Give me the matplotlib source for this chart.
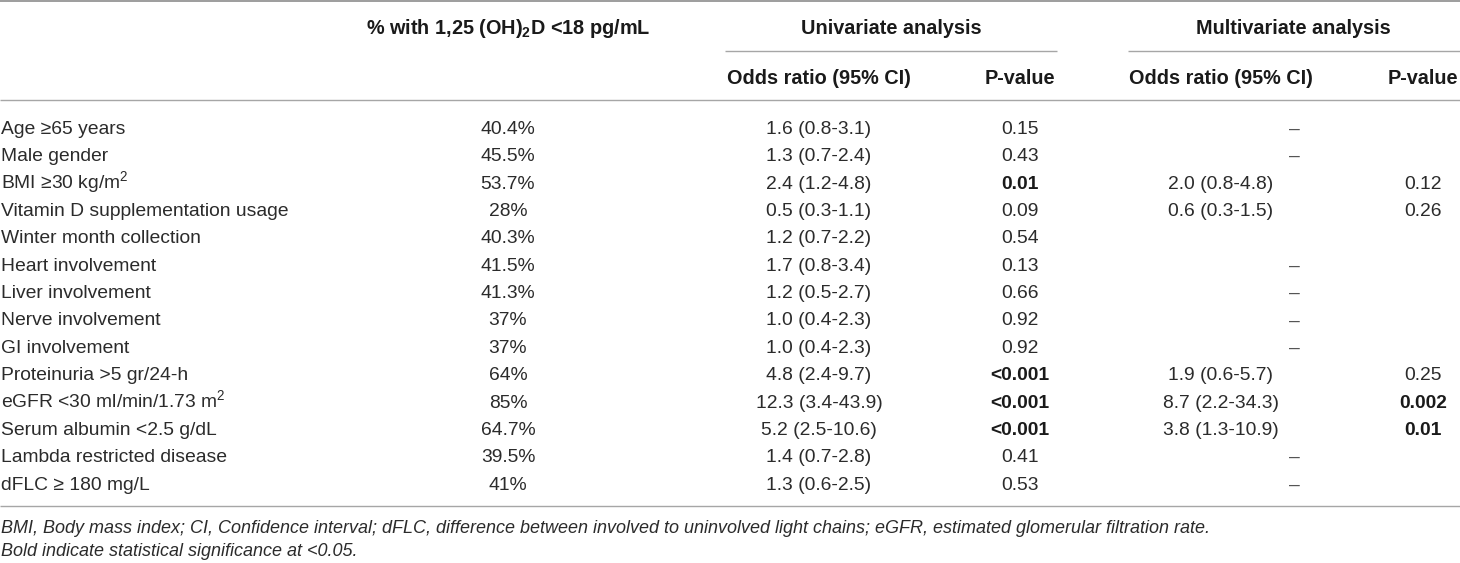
import matplotlib
matplotlib.use("Agg")
import matplotlib.pyplot as plt

plt.rcParams['font.family'] = ['Liberation Sans', 'DejaVu Sans']
plt.rcParams['mathtext.fontset'] = 'custom'
plt.rcParams['mathtext.rm'] = 'Liberation Sans'
plt.rcParams['mathtext.it'] = 'Liberation Sans:italic'
plt.rcParams['mathtext.bf'] = 'Liberation Sans:bold'
plt.rcParams['mathtext.default'] = 'regular'

# ---- data ----
variables = ["Age \u226565 years", "Male gender", "BMI \u226530 kg/m$^{2}$",
             "Vitamin D supplementation usage", "Winter month collection",
             "Heart involvement", "Liver involvement", "Nerve involvement",
             "GI involvement", "Proteinuria >5 gr/24-h",
             "eGFR <30 ml/min/1.73 m$^{2}$", "Serum albumin <2.5 g/dL",
             "Lambda restricted disease", "dFLC \u2265 180 mg/L"]
pct_low = ["40.4%", "45.5%", "53.7%", "28%", "40.3%", "41.5%", "41.3%", "37%",
           "37%", "64%", "85%", "64.7%", "39.5%", "41%"]
uni_or = ["1.6 (0.8-3.1)", "1.3 (0.7-2.4)", "2.4 (1.2-4.8)", "0.5 (0.3-1.1)",
          "1.2 (0.7-2.2)", "1.7 (0.8-3.4)", "1.2 (0.5-2.7)", "1.0 (0.4-2.3)",
          "1.0 (0.4-2.3)", "4.8 (2.4-9.7)", "12.3 (3.4-43.9)", "5.2 (2.5-10.6)",
          "1.4 (0.7-2.8)", "1.3 (0.6-2.5)"]
uni_p = ["0.15", "0.43", "0.01", "0.09", "0.54", "0.13", "0.66", "0.92", "0.92",
         "<0.001", "<0.001", "<0.001", "0.41", "0.53"]
uni_sig = [False, False, True, False, False, False, False, False, False,
           True, True, True, False, False]
multi_or = ["\u2013", "\u2013", "2.0 (0.8-4.8)", "0.6 (0.3-1.5)", "", "\u2013",
            "\u2013", "\u2013", "\u2013", "1.9 (0.6-5.7)", "8.7 (2.2-34.3)",
            "3.8 (1.3-10.9)", "\u2013", "\u2013"]
multi_p = ["", "", "0.12", "0.26", "", "", "", "", "", "0.25", "0.002", "0.01", "", ""]
multi_sig = [False, False, False, False, False, False, False, False, False,
             False, True, True, False, False]

header_top = ["% with 1,25 (OH)$_{\\mathbf{2}}$D <18 pg/mL", "Univariate analysis",
              "Multivariate analysis"]
header_sub = ["Odds ratio (95% CI)", "P-value", "Odds ratio (95% CI)", "P-value"]
footnotes = ["BMI, Body mass index; CI, Confidence interval; dFLC, difference between "
             "involved to uninvolved light chains; eGFR, estimated glomerular filtration rate.",
             "Bold indicate statistical significance at <0.05."]

# ---- layout ----
W, H = 1460, 563
fig = plt.figure(figsize=(W / 100, H / 100), dpi=100)
ax = fig.add_axes([0, 0, 1, 1])
ax.set_xlim(0, W)
ax.set_ylim(H, 0)
ax.axis('off')

txt = '#2b2b2b'
hdr = '#1a1a1a'
line_c = '#a6a6a6'
fs = 13.9
hfs = 14.3
bl = 6.5  # offset from visual centre to baseline (px)

x_label = 1
x_pct = 508
x_uor = 819
x_up = 1020
x_mor = 1221
x_mp = 1423
x_dash = 1294

# lines
ax.hlines(1, 0, W, color='#8c8c8c', lw=1.2)
ax.hlines(51, 725, 1057, color=line_c, lw=1.0)
ax.hlines(51, 1128, W, color=line_c, lw=1.0)
ax.hlines(100, 0, W, color=line_c, lw=1.0)
ax.hlines(506, 0, W, color=line_c, lw=1.0)

# headers
ax.text(x_pct, 27 + bl, header_top[0], ha='center', va='baseline', fontsize=hfs,
        fontweight='bold', color=hdr)
ax.text(891, 27 + bl, header_top[1], ha='center', va='baseline', fontsize=hfs,
        fontweight='bold', color=hdr)
ax.text(1293, 27 + bl, header_top[2], ha='center', va='baseline', fontsize=hfs,
        fontweight='bold', color=hdr)
for xc, s in zip([x_uor, x_up, x_mor, x_mp], header_sub):
    ax.text(xc, 77 + bl, s, ha='center', va='baseline', fontsize=hfs,
            fontweight='bold', color=hdr)

# rows
y0, dy = 127.3, 27.37
for i in range(len(variables)):
    y = y0 + dy * i + bl
    ax.text(x_label, y, variables[i], ha='left', va='baseline', fontsize=fs, color=txt)
    ax.text(x_pct, y, pct_low[i], ha='center', va='baseline', fontsize=fs, color=txt)
    ax.text(x_uor, y, uni_or[i], ha='center', va='baseline', fontsize=fs, color=txt)
    ax.text(x_up, y, uni_p[i], ha='center', va='baseline', fontsize=fs,
            color=hdr if uni_sig[i] else txt,
            fontweight='bold' if uni_sig[i] else 'normal')
    if multi_or[i] == "\u2013":
        ax.text(x_dash, y, multi_or[i], ha='center', va='baseline', fontsize=fs,
                color='#555555')
    elif multi_or[i]:
        ax.text(x_mor, y, multi_or[i], ha='center', va='baseline', fontsize=fs, color=txt)
    if multi_p[i]:
        ax.text(x_mp, y, multi_p[i], ha='center', va='baseline', fontsize=fs,
                color=hdr if multi_sig[i] else txt,
                fontweight='bold' if multi_sig[i] else 'normal')

# footnotes
ax.text(x_label, 527 + 6, footnotes[0], ha='left', va='baseline', fontsize=13.0,
        style='italic', color=txt)
ax.text(x_label, 550 + 6, footnotes[1], ha='left', va='baseline', fontsize=13.0,
        style='italic', color=txt)

fig.savefig('out.png', dpi=100)
